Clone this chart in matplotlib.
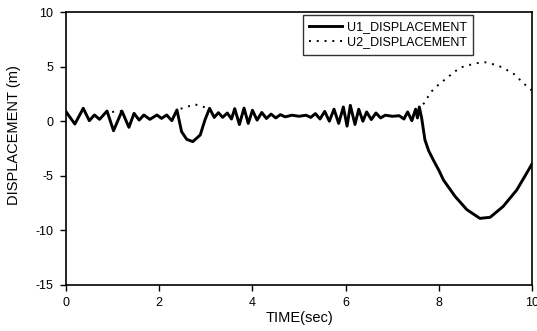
import matplotlib.pyplot as plt

plt.rcParams['font.family'] = ['Liberation Sans', 'DejaVu Sans']
plt.rcParams['axes.unicode_minus'] = False

# U1 displacement history (time in s, displacement in m)
t_u1 = [0.00, 0.19, 0.37, 0.50, 0.61, 0.72, 0.88, 1.02, 1.20, 1.35,
        1.46, 1.57, 1.67, 1.80, 1.95, 2.05, 2.16, 2.27, 2.38, 2.48,
        2.59, 2.72, 2.88, 2.98, 3.08, 3.18, 3.27, 3.36, 3.46, 3.55,
        3.62, 3.72, 3.82, 3.91, 4.00, 4.10, 4.20, 4.30, 4.40, 4.50,
        4.60, 4.70, 4.85, 5.00, 5.15, 5.25, 5.35, 5.45, 5.55, 5.65,
        5.75, 5.85, 5.95, 6.03, 6.10, 6.20, 6.28, 6.37, 6.45, 6.55,
        6.65, 6.75, 6.85, 7.00, 7.15, 7.25, 7.33, 7.42, 7.50, 7.54,
        7.58, 7.63, 7.70, 7.78, 7.88, 8.00, 8.10, 8.35, 8.60, 8.88,
        9.10, 9.38, 9.67, 9.85, 10.00]
u1 = [0.87, -0.26, 1.18, 0.05, 0.57, 0.17, 0.93, -0.87, 0.93, -0.56,
      0.72, 0.10, 0.57, 0.17, 0.57, 0.26, 0.57, 0.05, 1.03, -0.96,
      -1.66, -1.87, -1.26, 0.10, 1.18, 0.35, 0.78, 0.35, 0.75, 0.20,
      1.15, -0.30, 1.20, -0.20, 1.00, 0.10, 0.80, 0.25, 0.65, 0.30,
      0.60, 0.40, 0.55, 0.45, 0.55, 0.35, 0.70, 0.20, 0.90, 0.00,
      1.10, -0.20, 1.30, -0.45, 1.45, -0.30, 1.10, 0.00, 0.85, 0.15,
      0.75, 0.30, 0.55, 0.45, 0.50, 0.20, 0.85, 0.05, 1.10, 0.30,
      1.30, 0.30, -1.70, -2.70, -3.55, -4.50, -5.40, -6.90, -8.10, -8.90,
      -8.80, -7.80, -6.30, -5.00, -3.90]

# U2 displacement history
t_u2 = [0.00, 0.19, 0.37, 0.50, 0.61, 0.72, 0.88, 0.96, 1.05, 1.20,
        1.35, 1.46, 1.57, 1.67, 1.80, 1.95, 2.05, 2.16, 2.27, 2.38,
        2.77, 2.86, 3.08, 3.18, 3.27, 3.36, 3.46, 3.55, 3.62, 3.72,
        3.82, 3.91, 4.00, 4.10, 4.20, 4.30, 4.40, 4.50, 4.60, 4.70,
        4.85, 5.00, 5.15, 5.25, 5.35, 5.45, 5.55, 5.65, 5.75, 5.85,
        5.95, 6.03, 6.10, 6.20, 6.28, 6.37, 6.45, 6.55, 6.65, 6.75,
        6.85, 7.00, 7.15, 7.25, 7.33, 7.42, 7.50, 7.54, 7.58, 7.70,
        7.81, 7.98, 8.24, 8.45, 8.78, 8.99, 9.27, 9.59, 9.91, 10.00]
u2 = [0.87, -0.26, 1.18, 0.05, 0.57, 0.17, 0.93, 0.80, 0.90, 0.93,
      -0.56, 0.72, 0.10, 0.57, 0.17, 0.57, 0.26, 0.57, 0.05, 1.03,
      1.55, 1.40, 1.18, 0.35, 0.78, 0.35, 0.75, 0.20, 1.15, -0.30,
      1.20, -0.20, 1.00, 0.10, 0.80, 0.25, 0.65, 0.30, 0.60, 0.40,
      0.55, 0.45, 0.55, 0.35, 0.70, 0.20, 0.90, 0.00, 1.10, -0.20,
      1.30, -0.45, 1.45, -0.30, 1.10, 0.00, 0.85, 0.15, 0.75, 0.30,
      0.55, 0.45, 0.50, 0.20, 0.85, 0.05, 1.10, 0.30, 1.30, 1.70,
      2.60, 3.30, 4.20, 4.90, 5.30, 5.40, 5.10, 4.40, 3.10, 2.80]

x_ticks = [0, 2, 4, 6, 8, 10]
y_ticks = [10, 5, 0, -5, -10, -15]

fig = plt.figure(figsize=(5.37, 3.31), dpi=100)
ax = fig.add_axes([0.1229, 0.139, 0.868, 0.8247])

ax.plot(t_u2, u2, color='black', lw=1.4, linestyle=(0, (1, 3)),
        label='U2_DISPLACEMENT', zorder=2)
ax.plot(t_u1, u1, color='black', lw=2.1, label='U1_DISPLACEMENT', zorder=3)

ax.set_xlim(0, 10)
ax.set_ylim(-15, 10)
ax.set_xticks(x_ticks)
ax.set_yticks(y_ticks)
ax.tick_params(direction='out', length=4, width=1, labelsize=9, pad=5)

for s in ax.spines.values():
    s.set_linewidth(1.2)

ax.set_xlabel('TIME(sec)', fontsize=10.5, labelpad=1)
ax.set_ylabel('DISPLACEMENT (m)', fontsize=10.5)
ax.yaxis.set_label_coords(-0.097, 0.55)

handles, labels = ax.get_legend_handles_labels()
leg = ax.legend(handles[::-1], labels[::-1], loc='upper left',
                bbox_to_anchor=(0.508, 0.989), borderaxespad=0,
                fontsize=9, frameon=True, fancybox=False,
                edgecolor='black', handlelength=2.6, handletextpad=0.4,
                labelspacing=0.25, borderpad=0.5)
leg.get_frame().set_linewidth(1.0)

fig.savefig('out.png', dpi=100)
